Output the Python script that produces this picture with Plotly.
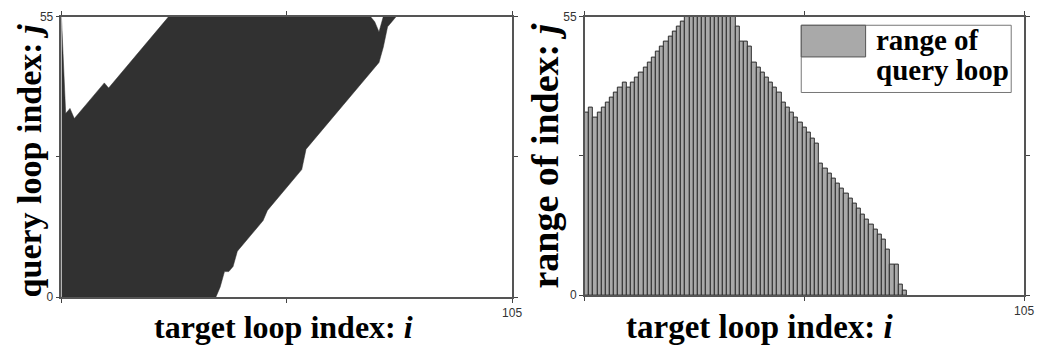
import plotly.graph_objects as go

W, H = 1043, 355

# ---- left panel: band of query-loop indices j matched for each target index i
target_i = list(range(0, 79))
query_upper = [55,
               36, 37, 35, 36, 37, 38, 39, 40, 41, 42, 41, 42, 43, 44, 45, 46, 47, 48,
               49, 50, 51, 52, 53, 54, 55, 55, 55, 55, 55, 55, 55, 55, 55, 55, 55, 55,
               55, 55, 55, 55, 55, 55, 55, 55, 55, 55, 55, 55, 55, 55, 55, 55, 55, 55,
               55, 55, 55, 55, 55, 55, 55, 55, 55, 55, 55, 55, 55, 55, 55, 55, 55, 55,
               54, 52, 55, 55, 55, 55]
query_lower = [0,
               0, 0, 0, 0, 0, 0, 0, 0, 0, 0, 0, 0, 0, 0, 0, 0, 0, 0,
               0, 0, 0, 0, 0, 0, 0, 0, 0, 0, 0, 0, 0, 0, 0, 0, 0, 0,
               2, 5, 5, 6, 9, 10, 11, 12, 13, 14, 15, 17, 18, 19, 20, 21, 22, 23,
               24, 25, 29, 30, 31, 32, 33, 34, 35, 36, 37, 38, 39, 40, 41, 42, 43, 44,
               45, 46, 49, 53, 54, 55]

# ---- right panel: size of the query-loop range for each target index
bar_i = list(range(0, 77))
query_range = [36, 37, 35, 36, 37, 38, 39, 40, 41, 42, 41, 42, 43, 44, 45, 46, 47, 48,
               49, 50, 51, 52, 53, 54, 55, 55, 55, 55, 55, 55, 55, 55, 55, 55, 55, 55,
               53, 50, 50, 49, 46, 45, 44, 43, 42, 41, 40, 38, 37, 36, 35, 34, 33, 32,
               31, 30, 26, 25, 24, 23, 22, 21, 20, 19, 18, 17, 16, 15, 14, 13, 12, 11,
               9, 6, 6, 2, 1]

x_ticks = [0, 52.5, 105]
x_ticktext = ["", "", "105"]
y_ticks = [0, 27.5, 55]
y_ticktext = ["0", "", "55"]

x_title = "<b>target loop index: <i>i</i></b>"
y_title_left = "<b>query loop index: <i>j</i></b>"
y_title_right = "<b>range of index: <i>j</i></b>"
legend_lines = ["<b>range of</b>", "<b>query loop</b>"]

DARK = "#313131"
BAR_FILL = "#a9a9a9"
BAR_EDGE = "#2e2e2e"
SERIF = "Liberation Serif"
SANS = "Liberation Sans"


def px_x(p):
    return p / W


def px_y(p):
    return 1 - p / H


fig = go.Figure()

fig.add_trace(go.Scatter(x=target_i, y=query_lower, mode="lines",
                         line=dict(color=DARK, width=0.5),
                         showlegend=False, xaxis="x", yaxis="y"))
fig.add_trace(go.Scatter(x=target_i, y=query_upper, mode="lines",
                         line=dict(color=DARK, width=0.5),
                         fill="tonexty", fillcolor=DARK,
                         showlegend=False, xaxis="x", yaxis="y"))

fig.add_trace(go.Bar(x=bar_i, y=query_range, width=1, offset=0,
                     marker=dict(color=BAR_FILL, line=dict(color=BAR_EDGE, width=1)),
                     showlegend=False, xaxis="x2", yaxis="y2"))

axis_common = dict(showgrid=False, zeroline=False, showline=True, linecolor="#555555",
                   linewidth=1.5, mirror="ticks", ticks="outside", ticklen=4,
                   tickcolor="#444444", tickwidth=1,
                   tickfont=dict(family=SANS, size=12, color="#333333"))

fig.update_layout(
    width=W, height=H,
    margin=dict(l=0, r=0, t=0, b=0),
    paper_bgcolor="white", plot_bgcolor="white",
    bargap=0,
    xaxis=dict(domain=[px_x(62), px_x(517)], range=[0, 105], tickvals=x_ticks,
               ticktext=x_ticktext, anchor="y", **axis_common),
    yaxis=dict(domain=[px_y(302), px_y(10)], range=[0, 55], tickvals=y_ticks,
               ticktext=y_ticktext, anchor="x", **axis_common),
    xaxis2=dict(domain=[px_x(590.5), px_x(1034)], range=[0, 105], tickvals=x_ticks,
                ticktext=x_ticktext, anchor="y2", **axis_common),
    yaxis2=dict(domain=[px_y(300), px_y(10)], range=[0, 55], tickvals=y_ticks,
                ticktext=y_ticktext, anchor="x2", **axis_common),
)

annotations = [
    dict(text=x_title, x=px_x(286), y=px_y(333),
         font=dict(family=SERIF, size=32, color="black")),
    dict(text=x_title, x=px_x(767), y=px_y(333),
         font=dict(family=SERIF, size=33, color="black")),
    dict(text=y_title_left, x=px_x(30), y=px_y(160), textangle=-90,
         font=dict(family=SERIF, size=34, color="black")),
    dict(text=y_title_right, x=px_x(550), y=px_y(155), textangle=-90,
         font=dict(family=SERIF, size=38, color="black")),
    dict(text=legend_lines[0], x=px_x(882), y=px_y(34), xanchor="left",
         font=dict(family=SERIF, size=29, color="black")),
    dict(text=legend_lines[1], x=px_x(882), y=px_y(66), xanchor="left",
         font=dict(family=SERIF, size=29, color="black")),
]
for a in annotations:
    a.setdefault("xanchor", "center")
    a.setdefault("yanchor", "middle")
    a.update(xref="paper", yref="paper", showarrow=False)
fig.update_layout(annotations=annotations)

# legend frame and swatch
fig.add_shape(type="rect", xref="paper", yref="paper",
              x0=px_x(809), x1=px_x(1021), y0=px_y(89), y1=px_y(19),
              line=dict(color="#777777", width=1), fillcolor="white", layer="below")
fig.add_shape(type="rect", xref="paper", yref="paper",
              x0=px_x(809), x1=px_x(874), y0=px_y(52), y1=px_y(19),
              line=dict(color="#555555", width=1), fillcolor=BAR_FILL, layer="above")

fig.write_html("out.html")
